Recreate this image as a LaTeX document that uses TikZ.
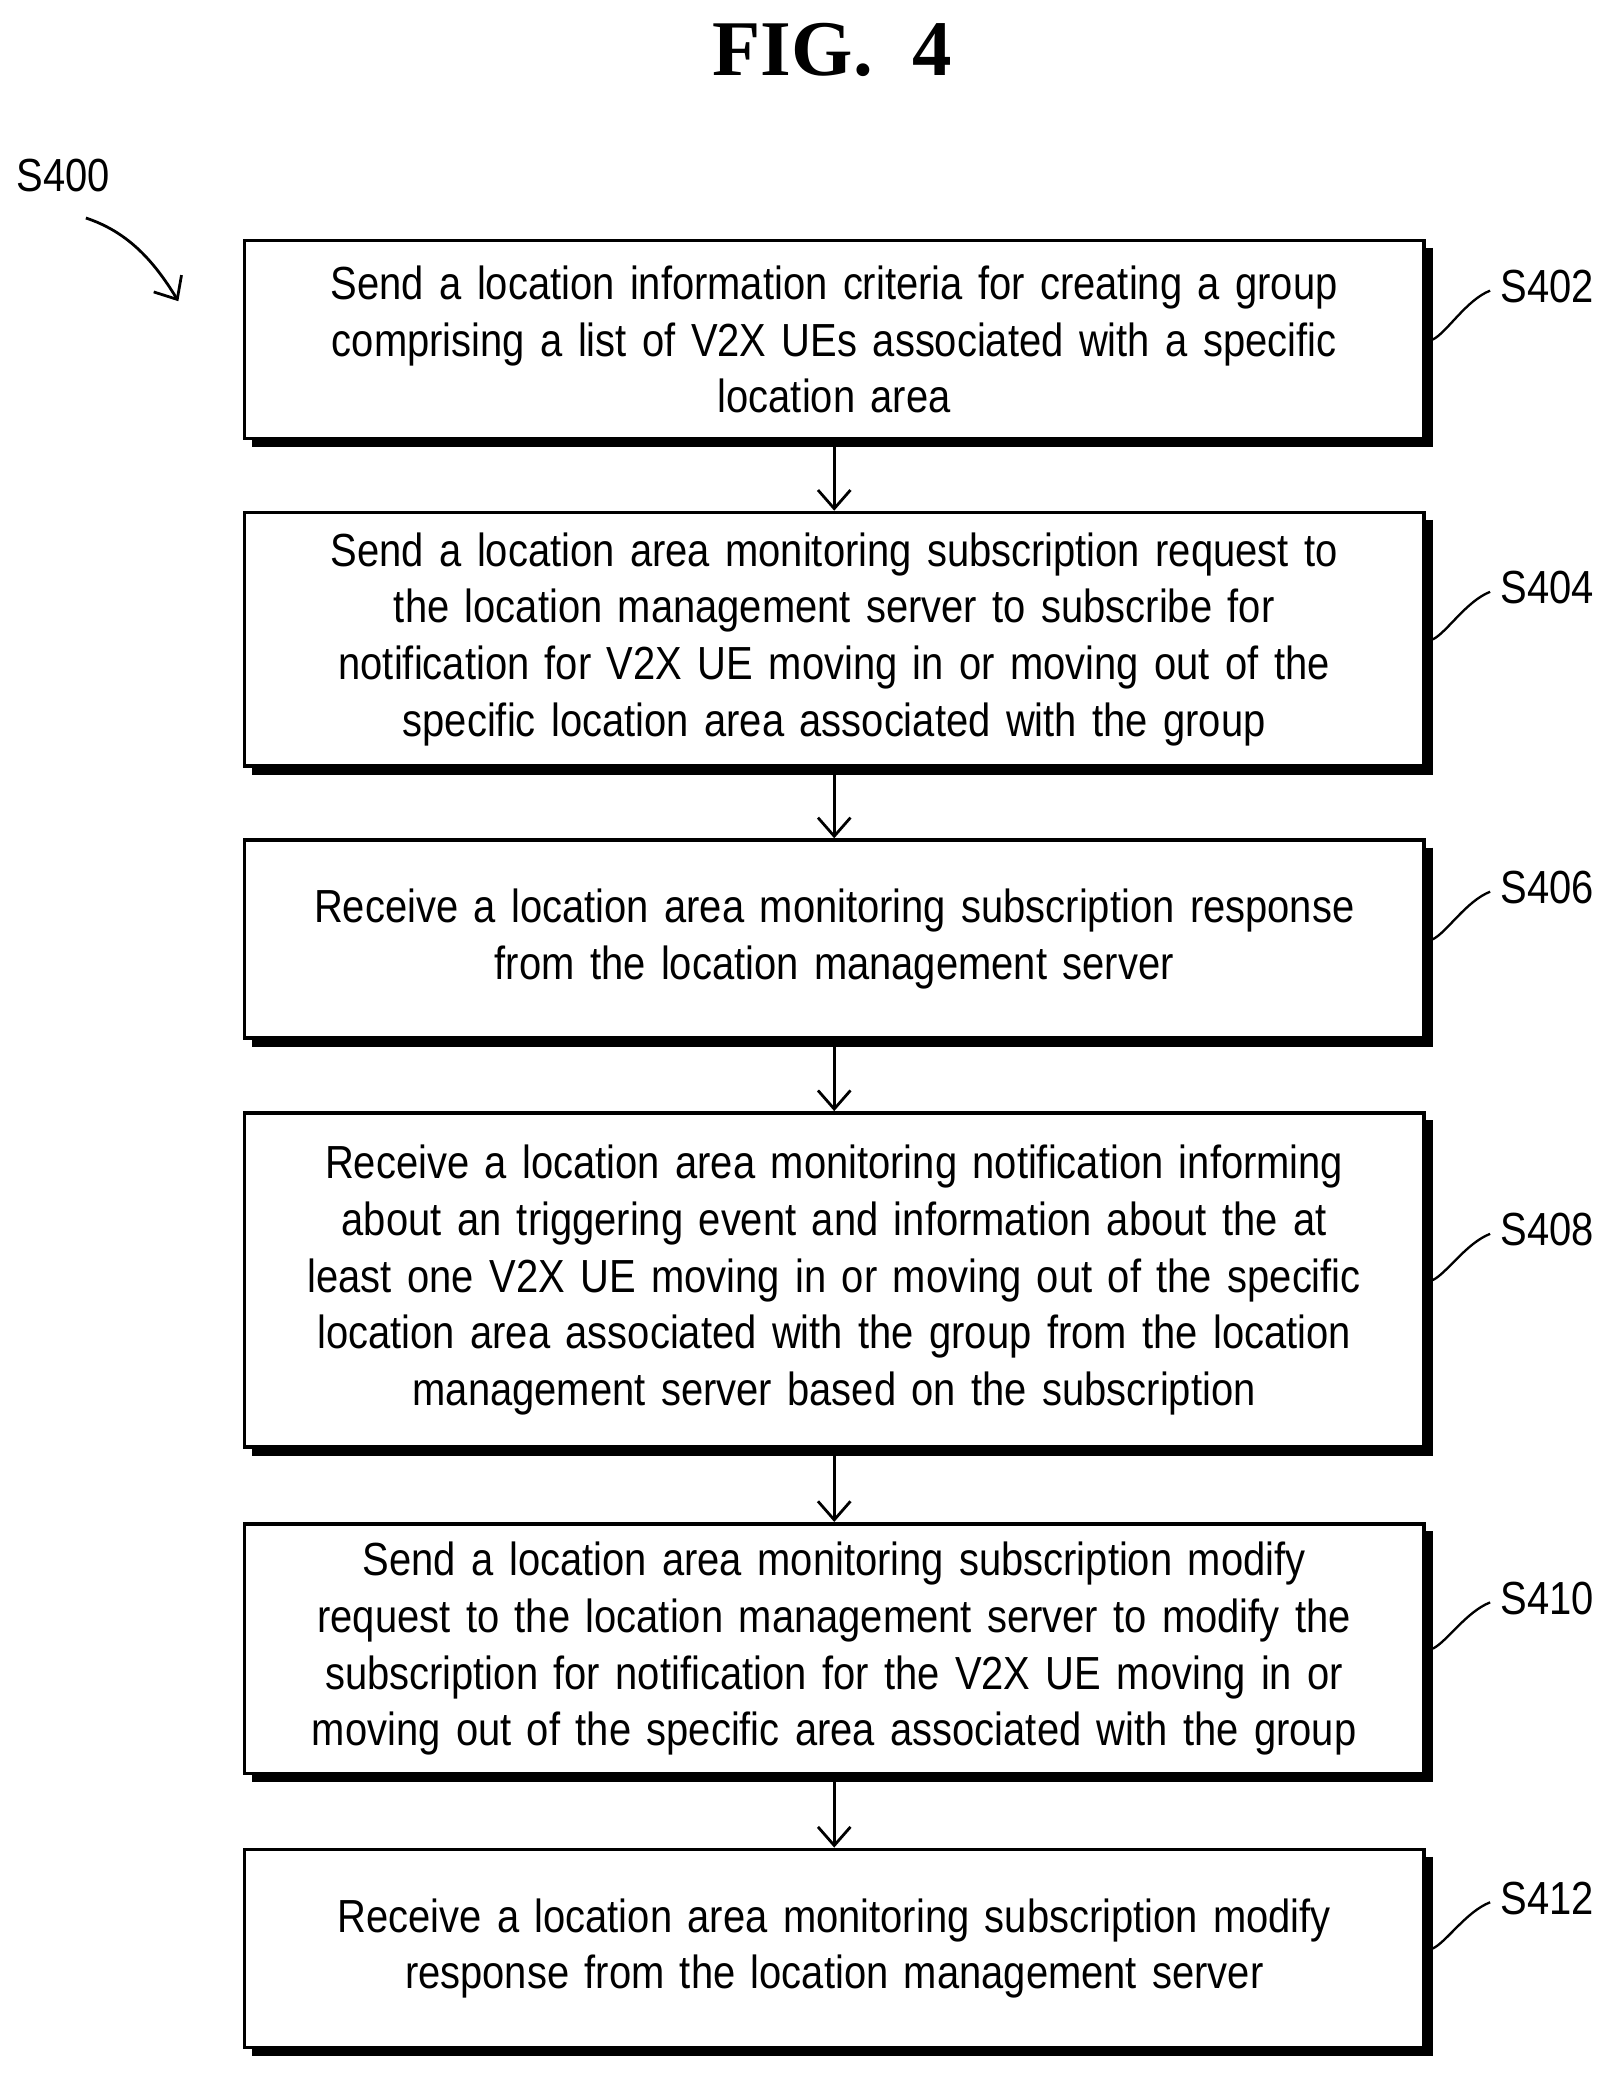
\documentclass[tikz,border=0pt]{standalone}
\usepackage{fontspec}
\setmainfont{Liberation Sans}[FakeStretch=0.86]
\newfontfamily\titlefont{Liberation Serif}
\usetikzlibrary{arrows.meta}
\begin{document}
\begin{tikzpicture}[x=0.02cm,y=-0.02cm,
  box/.style={draw,line width=1.6pt,minimum width=17.86cm,text width=17.4cm,align=center,font=\fontsize{20}{24.5}\selectfont,inner sep=0pt},
  shadow/.style={line width=3pt},
  lab/.style={font=\fontsize{20}{24}\selectfont,anchor=west},
  arr/.style={-{Straight Barb[length=8pt,width=14pt]},line width=1.2pt}]
\useasboundingbox (0,0) rectangle (1220,1570);
\node[font=\titlefont\bfseries\fontsize{34}{40}\selectfont] (title) at (630,38) {FIG.\ \ 4};
\node[lab,anchor=center] (s400) at (48,133) {S400};
\coordinate (s400a) at (65,165);
\coordinate (s400b) at (135,228);
\draw[arr] (s400a) .. controls (95,175) and (115,195) .. (s400b);
\def\mk#1#2#3#4#5{%
  \node[box,minimum height=#3*0.02cm] (#1) at (631.5,#2) {#5};
  \draw[shadow] ([xshift=1.5pt,yshift=-4pt]#1.north east) -- ([xshift=1.5pt,yshift=-1.5pt]#1.south east) -- ([xshift=4pt,yshift=-1.5pt]#1.south west);
  \node[lab] (l#1) at (1130,#4) {#1};
  \coordinate (c#1) at (1128,#4+3);
  \draw[line width=1pt] ([xshift=3pt]#1.east) .. controls (1095,#2-5) and (1110,#4+10) .. (c#1);
}
\mk{S402}{257}{150}{217}{Send a location information criteria for creating a group\\comprising a list of V2X UEs associated with a specific\\location area}
\mk{S404}{484}{192}{445}{Send a location area monitoring subscription request to\\the location management server to subscribe for\\notification for V2X UE moving in or moving out of the\\specific location area associated with the group}
\mk{S406}{711}{150}{672}{Receive a location area monitoring subscription response\\from the location management server}
\mk{S408}{969}{253}{931}{Receive a location area monitoring notification informing\\about an triggering event and information about the at\\least one V2X UE moving in or moving out of the specific\\location area associated with the group from the location\\management server based on the subscription}
\mk{S410}{1248}{189}{1210}{Send a location area monitoring subscription modify\\request to the location management server to modify the\\subscription for notification for the V2X UE moving in or\\moving out of the specific area associated with the group}
\mk{S412}{1475}{150}{1437}{Receive a location area monitoring subscription modify\\response from the location management server}
\draw[arr] ([yshift=-2pt]S402.south) -- (S404.north);
\draw[arr] ([yshift=-2pt]S404.south) -- (S406.north);
\draw[arr] ([yshift=-2pt]S406.south) -- (S408.north);
\draw[arr] ([yshift=-2pt]S408.south) -- (S410.north);
\draw[arr] ([yshift=-2pt]S410.south) -- (S412.north);
\end{tikzpicture}
\end{document}
